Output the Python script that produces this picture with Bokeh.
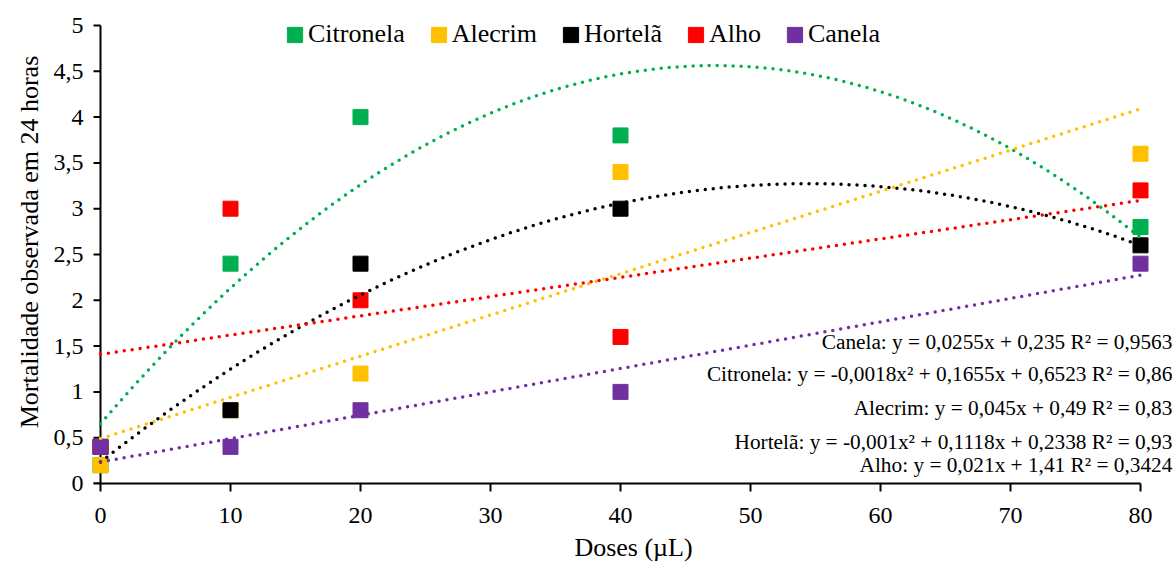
import numpy as np
from bokeh.plotting import figure
from bokeh.models import Range1d, FixedTicker, Legend, LegendItem, Label
from bokeh.embed import file_html
from bokeh.resources import INLINE

# ---- data ----
doses = [0, 10, 20, 40, 80]
series_names = ["Citronela", "Alecrim", "Hortelã", "Alho", "Canela"]
citronela = [0.2, 2.4, 4.0, 3.8, 2.8]
alecrim = [0.2, 0.8, 1.2, 3.4, 3.6]
hortela = [0.4, 0.8, 2.4, 3.0, 2.6]
alho = [0.4, 3.0, 2.0, 1.6, 3.2]
canela = [0.4, 0.4, 0.8, 1.0, 2.4]
fit_degree = [2, 1, 2, 1, 1]
colors = ["#00B050", "#FFC000", "#000000", "#FF0000", "#7030A0"]
equations = [
    "Canela: y = 0,0255x + 0,235 R² = 0,9563",
    "Citronela: y = -0,0018x² + 0,1655x + 0,6523 R² = 0,86",
    "Alecrim: y = 0,045x + 0,49 R² = 0,83",
    "Hortelã: y = -0,001x² + 0,1118x + 0,2338 R² = 0,93",
    "Alho: y = 0,021x + 1,41 R² = 0,3424",
]
x_ticks = [0, 10, 20, 30, 40, 50, 60, 70, 80]
y_ticks = [0, 0.5, 1, 1.5, 2, 2.5, 3, 3.5, 4, 4.5, 5]
y_tick_labels = ["0", "0,5", "1", "1,5", "2", "2,5", "3", "3,5", "4", "4,5", "5"]

all_series = [citronela, alecrim, hortela, alho, canela]

FONT = "Liberation Serif"

W, H = 1176, 565
LEFT = 90          # frame left (px); x = 0 sits 10 px to its right
PX_X = 13.0        # px per x unit
PX_Y = 91.6        # px per y unit
FRAME_BOTTOM = 483
p = figure(width=W, height=H, output_backend="svg", toolbar_location=None,
           x_range=Range1d(-10 / PX_X, -10 / PX_X + (W - LEFT) / PX_X),
           y_range=Range1d(0, FRAME_BOTTOM / PX_Y),
           min_border_left=LEFT, min_border_right=0, min_border_top=0,
           min_border_bottom=H - FRAME_BOTTOM)
p.outline_line_color = None
p.xgrid.visible = False
p.ygrid.visible = False
p.background_fill_color = "white"

# axes
p.xaxis.ticker = FixedTicker(ticks=x_ticks)
p.yaxis.ticker = FixedTicker(ticks=y_ticks)
p.yaxis.major_label_overrides = {t: l for t, l in zip(y_ticks, y_tick_labels)}
p.xaxis.bounds = (-7 / PX_X, x_ticks[-1])
for ax in (p.xaxis[0], p.yaxis[0]):
    ax.axis_line_color = "black"
    ax.axis_line_width = 2
    ax.major_tick_line_color = "black"
    ax.major_tick_line_width = 2
    ax.major_tick_in = 0
    ax.minor_tick_line_color = None
    ax.major_label_text_font = FONT
    ax.major_label_text_font_size = "24px"
    ax.major_label_text_color = "black"
    ax.axis_label_text_font = FONT
    ax.axis_label_text_font_size = "26px"
    ax.axis_label_text_font_style = "normal"
    ax.axis_label_text_color = "black"
p.xaxis.major_tick_out = 8
p.xaxis.major_label_standoff = 16
p.xaxis.axis_label = "Doses (µL)"
p.xaxis.axis_label_standoff = 7
# y axis: labels from the built-in axis, line + ticks drawn at x = 0
p.yaxis.axis_line_color = None
p.yaxis.major_tick_line_color = None
p.yaxis.major_tick_out = 0
p.yaxis.major_label_standoff = 7
p.yaxis.axis_label = "Mortalidade observada em 24 horas"
p.yaxis.axis_label_standoff = 7

p.segment(x0=[x_ticks[0]], y0=[y_ticks[0]], x1=[x_ticks[0]], y1=[y_ticks[-1]],
          line_color="black", line_width=2)
p.segment(x0=[x_ticks[0]] * len(y_ticks), y0=y_ticks,
          x1=[x_ticks[0] - 7 / PX_X] * len(y_ticks), y1=y_ticks,
          line_color="black", line_width=2)

# markers
items = []
for name, ys, col in zip(series_names, all_series, colors):
    r = p.rect(x=doses, y=ys, width=15, height=15, width_units="screen",
               height_units="screen", fill_color=col, line_color=col)
    items.append(LegendItem(label=name, renderers=[r]))

# trendlines (least squares fit of each series)
xs_fit = np.linspace(x_ticks[0], x_ticks[-1], 300)
for ys, col, deg in zip(all_series, colors, fit_degree):
    coef = np.polyfit(doses, ys, deg)
    p.line(xs_fit, np.polyval(coef, xs_fit), line_color=col, line_width=3.5,
           line_dash="0 8", line_cap="round")

legend = Legend(items=items, orientation="horizontal", location=(195, 434),
                label_text_font=FONT, label_text_font_size="26px",
                label_text_color="black",
                glyph_width=19, glyph_height=19, label_standoff=4, spacing=24,
                padding=0, margin=0, border_line_color=None,
                background_fill_alpha=0)
p.add_layout(legend, "center")

# equation labels
eq_y = [1.54, 1.20, 0.82, 0.45, 0.20]
for txt, yv in zip(equations, eq_y):
    p.add_layout(Label(x=82.45, y=yv, text=txt, text_align="right", text_baseline="middle",
                       text_font=FONT, text_font_size="21.3px", text_color="black"))

open("out.html", "w").write(file_html(p, INLINE))
